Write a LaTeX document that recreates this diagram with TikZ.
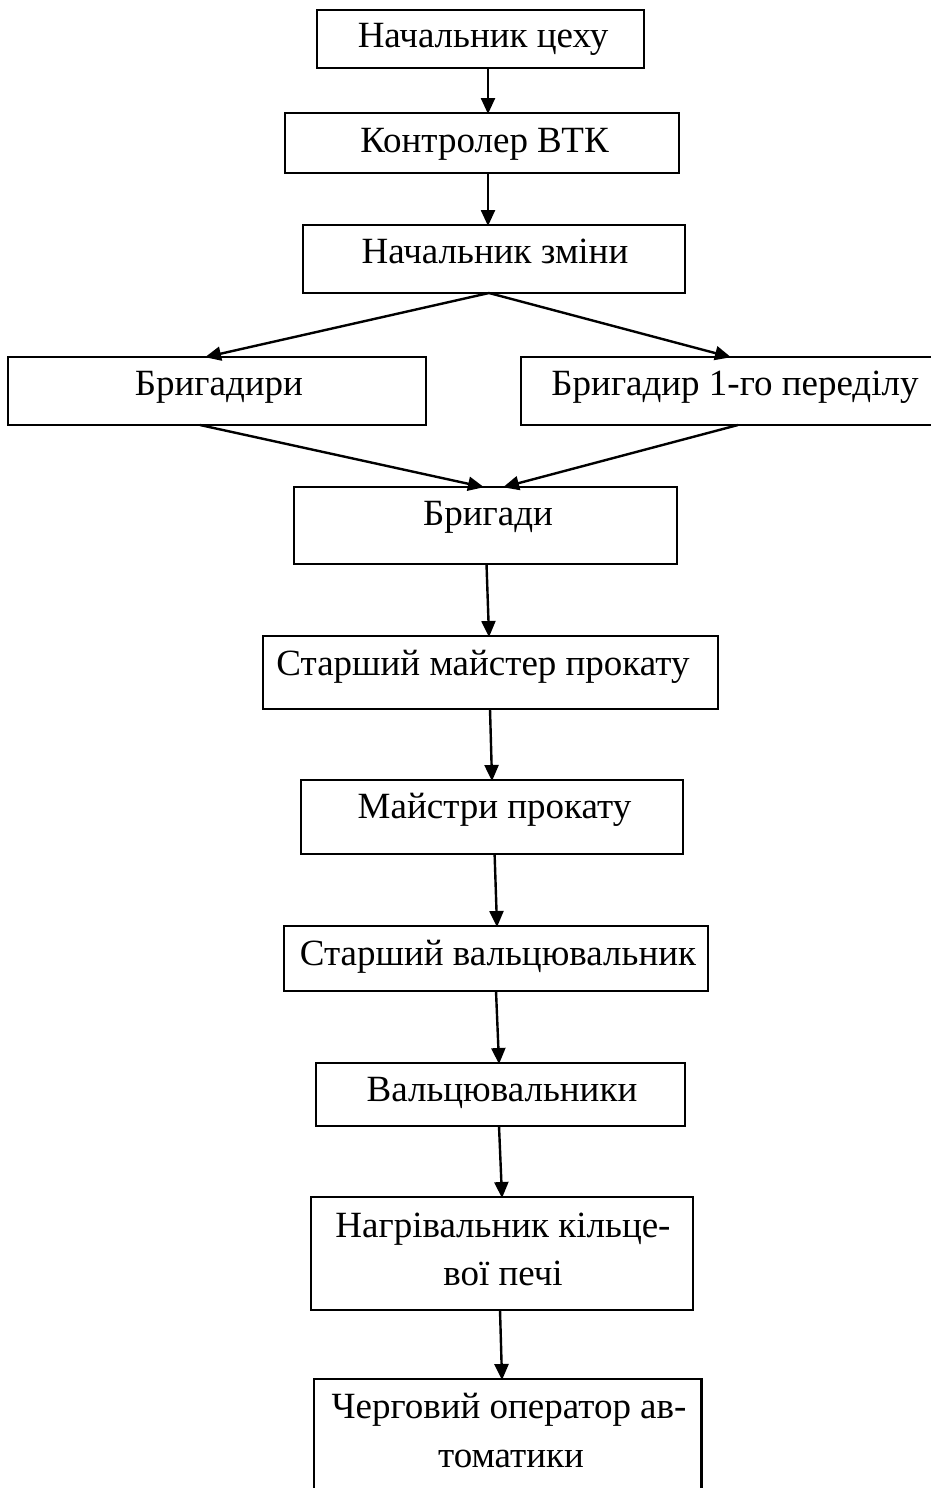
\documentclass[tikz,border=0pt]{standalone}
\usepackage{fontspec}
\setmainfont{Liberation Serif}
\usetikzlibrary{arrows.meta}
\tikzset{
  box/.style={draw, line width=2.4pt, rectangle, inner sep=0pt, outer sep=0pt},
  lbl/.style={anchor=base, inner sep=0pt, font=\fontsize{37}{48}\selectfont},
  arr/.style={line width=2.4pt, -{Triangle[length=16pt,width=14pt]}, shorten >=-1pt}
}
\begin{document}
\begin{tikzpicture}[x=1pt,y=-1pt]
\useasboundingbox (0,0) rectangle (930,1488);
% boxes
\node[box, minimum width=327pt, minimum height=58pt] (b1) at (480.5,39) {};
\node[box, minimum width=394pt, minimum height=60pt] (b2) at (482,143) {};
\node[box, minimum width=382pt, minimum height=68pt] (b3) at (494,259) {};
\node[box, minimum width=418pt, minimum height=68pt] (b4) at (217,391) {};
\node[box, minimum width=413pt, minimum height=68pt] (b5) at (727.5,391) {};
\node[box, minimum width=383pt, minimum height=77pt] (b6) at (485.5,525.5) {};
\node[box, minimum width=455pt, minimum height=73pt] (b7) at (490.5,672.5) {};
\node[box, minimum width=381.5pt, minimum height=74pt] (b8) at (492,817) {};
\node[box, minimum width=424pt, minimum height=65pt] (b9) at (496,958.5) {};
\node[box, minimum width=369pt, minimum height=63pt] (b10) at (500.5,1094.5) {};
\node[box, minimum width=382pt, minimum height=113pt] (b11) at (502,1253.5) {};
\node[box, minimum width=387.5pt, minimum height=121pt] (b12) at (507.75,1439.5) {};
% labels
\node[lbl] (t1) at (483,48) {Начальник цеху};
\node[lbl] (t2) at (484.5,152) {Контролер ВТК};
\node[lbl] (t3) at (495,263) {Начальник зміни};
\node[lbl] (t4) at (219,395) {Бригадири};
\node[lbl] (t5) at (735,395) {Бригадир 1-го переділу};
\node[lbl] (t6) at (488,525) {Бригади};
\node[lbl] (t7) at (483,675) {Старший майстер прокату};
\node[lbl] (t8) at (494.5,818) {Майстри прокату};
\node[lbl] (t9) at (498,965) {Старший вальцювальник};
\node[lbl] (t10) at (502,1101) {Вальцювальники};
\node[lbl] (t11a) at (503,1237) {Нагрівальник кільце-};
\node[lbl] (t11b) at (503,1285) {вої печі};
\node[lbl] (t12a) at (509,1418) {Черговий оператор ав-};
\node[lbl] (t12b) at (511,1467) {томатики};
% connectors
\draw[arr] ([xshift=7.5pt]b1.south) -- ([xshift=6pt]b2.north);
\draw[arr] ([xshift=6pt]b2.south) -- ([xshift=-6pt]b3.north);
\draw[arr] ([xshift=-5pt]b3.south) -- ([xshift=-11pt]b4.north);
\draw[arr] ([xshift=-5pt]b3.south) -- ([xshift=2.5pt]b5.north);
\draw[arr] ([xshift=-17pt]b4.south) -- ([xshift=-2.5pt]b6.north);
\draw[arr] ([xshift=10.5pt]b5.south) -- ([xshift=18.5pt]b6.north);
\draw[arr] ([xshift=1pt]b6.south) -- ([xshift=-1.5pt]b7.north);
\draw[arr] ([xshift=-0.5pt]b7.south) -- (b8.north);
\draw[arr] ([xshift=2.6pt]b8.south) -- ([xshift=1pt]b9.north);
\draw[arr] (b9.south) -- ([xshift=-1.5pt]b10.north);
\draw[arr] ([xshift=-1.5pt]b10.south) -- (b11.north);
\draw[arr] ([xshift=-2pt]b11.south) -- ([xshift=-5.75pt]b12.north);
\end{tikzpicture}
\end{document}
